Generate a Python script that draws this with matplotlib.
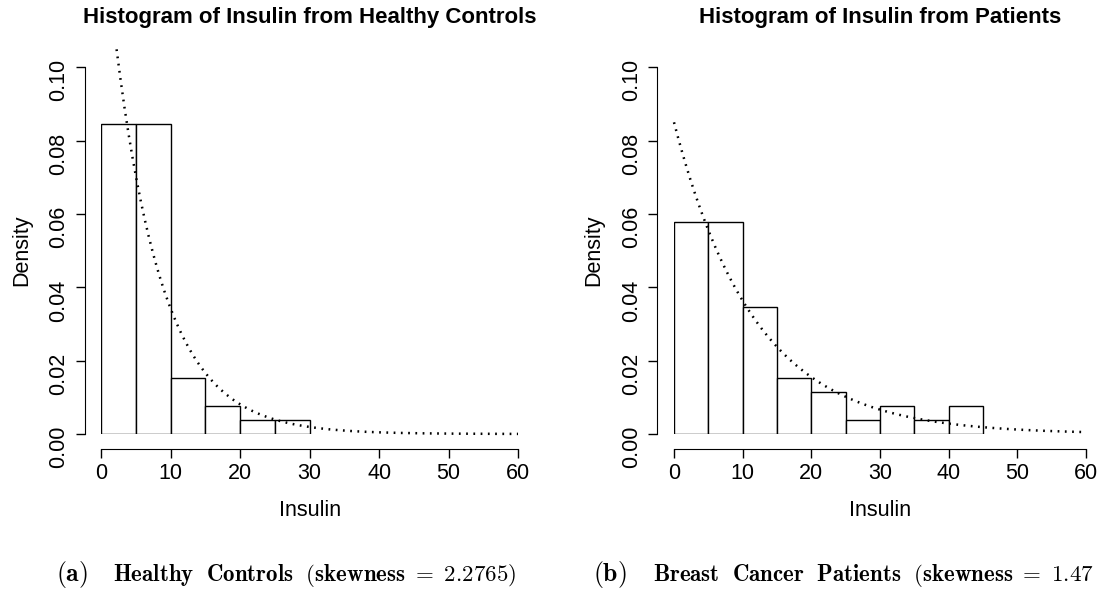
import matplotlib
matplotlib.use("Agg")
import matplotlib.pyplot as plt
import numpy as np

plt.rcParams["font.family"] = ["Liberation Sans", "DejaVu Sans"]
plt.rcParams["mathtext.fontset"] = "cm"

# histogram bins (insulin, width 5) and densities
controls_edges = [0, 5, 10, 15, 20, 25, 30]
controls_density = [0.0846, 0.0846, 0.0154, 0.0077, 0.0038, 0.0038]
patients_edges = [0, 5, 10, 15, 20, 25, 30, 35, 40, 45]
patients_density = [0.0577, 0.0577, 0.0346, 0.0154, 0.0115, 0.0038, 0.0077, 0.0038, 0.0077]

# fitted exponential rates and the range the curves are drawn over
controls_rate = 0.144
controls_curve_range = (2.2, 60)
patients_rate = 0.085
patients_curve_range = (0, 59.5)

titles = ["Histogram of Insulin from Healthy Controls", "Histogram of Insulin from Patients"]
caption_tags = ["(a)", "(b)"]
caption_texts = [r"$\mathbf{Healthy\ \ Controls\ \ (skewness}\ =\ 2.2765\mathbf{)}$",
                 r"$\mathbf{Breast\ \ Cancer\ \ Patients\ \ (skewness}\ =\ 1.47$"]
xticks = [0, 10, 20, 30, 40, 50, 60]
yticks = [0.00, 0.02, 0.04, 0.06, 0.08, 0.10]

W, H = 1103, 590


def draw_panel(ax, edges, density, rate, curve_range, title, width_px):
    ax.bar(edges[:-1], density, width=5, align="edge", facecolor="white",
           edgecolor="black", linewidth=1.0)
    x = np.linspace(curve_range[0], curve_range[1], 300)
    ax.plot(x, rate * np.exp(-rate * x), color="black", linewidth=1.8,
            linestyle=(0, (0.7, 2.2)), clip_on=False)

    ax.set_xlim(0, 60)
    ax.set_ylim(0, 0.1)
    ax.set_xticks(xticks)
    ax.set_yticks(yticks)
    ax.set_yticklabels(["%.2f" % v for v in yticks])
    ax.tick_params(labelsize=15.5, length=6.4, width=1.0)
    ax.tick_params(axis="x", pad=3.2)
    ax.tick_params(axis="y", pad=4.5, labelrotation=90)
    for lab in ax.get_yticklabels():
        lab.set_va("center")

    for side in ["top", "right"]:
        ax.spines[side].set_visible(False)
    ax.spines["left"].set_position(("outward", 12))
    ax.spines["bottom"].set_position(("outward", 11))
    ax.spines["left"].set_bounds(0, 0.1)
    ax.spines["bottom"].set_bounds(0, 60)

    ax.set_xlabel("Insulin", fontsize=15.5, va="center")
    ax.xaxis.set_label_coords(0.5, -76 / 366.7)
    ax.set_ylabel("Density", fontsize=15.5, va="center")
    ax.yaxis.set_label_coords(-80 / width_px, 0.5)
    ax.set_title(title, fontsize=16, fontweight="bold", y=1 + 50 / 366.7, va="center", pad=0)


fig = plt.figure(figsize=(W / 100, H / 100), dpi=100)
ax1 = fig.add_axes([101.3 / W, 156 / H, 416.7 / W, 366.7 / H])
ax2 = fig.add_axes([674 / W, 156 / H, 412 / W, 366.7 / H])

draw_panel(ax1, controls_edges, controls_density, controls_rate, controls_curve_range, titles[0], 416.7)
draw_panel(ax2, patients_edges, patients_density, patients_rate, patients_curve_range, titles[1], 412)

# sub-figure captions
for tag, text, x_tag, x_text in zip(caption_tags, caption_texts, [56, 593], [112.7, 652.7]):
    fig.text(x_tag / W, 1 - 581 / H, r"$\mathbf{%s}$" % tag, fontsize=18.5, va="baseline")
    fig.text(x_text / W, 1 - 581 / H, text, fontsize=16.5, va="baseline")

fig.savefig("out.png", dpi=100)
